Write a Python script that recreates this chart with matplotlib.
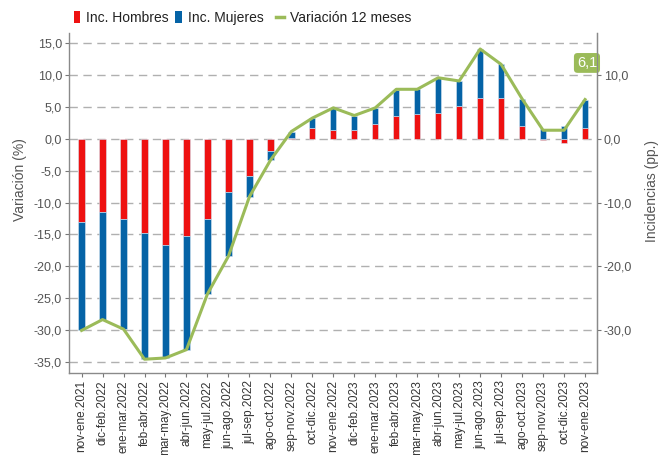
import matplotlib
matplotlib.use("Agg")
import matplotlib.pyplot as plt
from matplotlib.ticker import FuncFormatter, MultipleLocator, FixedLocator
from matplotlib.patches import Patch
from matplotlib.lines import Line2D
import numpy as np

plt.rcParams["font.family"] = ["Liberation Sans", "DejaVu Sans"]

# ---- datos ----
periodos = [
    "nov-ene.2021", "dic-feb.2022", "ene-mar.2022", "feb-abr.2022", "mar-may.2022",
    "abr-jun.2022", "may-jul.2022", "jun-ago.2022", "jul-sep.2022", "ago-oct.2022",
    "sep-nov.2022", "oct-dic.2022", "nov-ene.2022", "dic-feb.2023", "ene-mar.2023",
    "feb-abr.2023", "mar-may.2023", "abr-jun.2023", "may-jul.2023", "jun-ago.2023",
    "jul-sep.2023", "ago-oct.2023", "sep-nov.2023", "oct-dic.2023", "nov-ene.2023",
]
inc_hombres = [-13.1, -11.5, -12.6, -14.8, -16.6, -15.3, -12.5, -8.4, -5.8, -2.0,
               0.1, 1.7, 1.3, 1.35, 2.2, 3.5, 3.8, 4.0, 5.05, 6.3,
               6.3, 2.0, -0.15, -0.7, 1.7]
inc_mujeres = [-16.9, -16.8, -17.2, -19.7, -17.7, -17.7, -11.8, -10.0, -3.3, -1.4,
               1.0, 1.5, 3.5, 2.25, 2.6, 4.15, 3.9, 5.5, 3.95, 7.7,
               5.3, 4.2, 1.45, 1.95, 4.4]
variacion = [-30.0, -28.3, -29.8, -34.5, -34.3, -33.0, -24.3, -18.4, -9.1, -3.4,
             1.1, 3.2, 4.8, 3.6, 4.8, 7.7, 7.7, 9.5, 9.0, 14.0,
             11.6, 6.2, 1.3, 1.3, 6.1]

ROJO = "#ee1111"
AZUL = "#0563a6"
VERDE = "#9bbb59"
GRIS = "#555555"


def coma(v, pos=None):
    return f"{v:.1f}".replace(".", ",")


fig = plt.figure(figsize=(6.61, 4.55), dpi=100)
ax = fig.add_axes([69 / 661, 1 - 373.3 / 455, 528 / 661, 340.3 / 455])

x = np.arange(len(periodos))
h = np.array(inc_hombres)
m = np.array(inc_mujeres)

# apilado: las mujeres se apilan sobre los hombres con el mismo signo
base_m = np.where(np.sign(m) == np.sign(h), h, 0.0)

ax.bar(x, h, width=0.3, color=ROJO, edgecolor="#d8e6f2", linewidth=0.4, zorder=2)
ax.bar(x, m, width=0.3, bottom=base_m, color=AZUL, edgecolor="#d8e6f2", linewidth=0.4, zorder=2)
ax.plot(x, variacion, color=VERDE, linewidth=2.2, zorder=3)

ymin, ymax = -36.7, 16.5
ax.set_xlim(-0.6, len(periodos) - 0.43)
ax.set_ylim(ymin, ymax)
ax.yaxis.set_major_locator(MultipleLocator(5))
ax.yaxis.set_major_formatter(FuncFormatter(coma))
ax.grid(axis="y", color="#b0b0b0", linestyle=(0, (6, 4)), linewidth=1.0, zorder=0)

ax.set_xticks(x)
ax.set_xticklabels(periodos, rotation=90, fontsize=8.5, color="#333333")
ax.tick_params(axis="x", length=3, color="#777777", pad=2)
ax.tick_params(axis="y", length=3, color="#777777", labelsize=9, labelcolor=GRIS, pad=2)

ax.spines["top"].set_visible(False)
for s in ["left", "bottom", "right"]:
    ax.spines[s].set_color("#8a8a8a")
    ax.spines[s].set_linewidth(1.0)

ax.set_ylabel("Variación (%)", fontsize=10, color=GRIS)
ax.yaxis.set_label_coords(-0.080, 0.57)

# eje derecho (incidencias)
ax2 = ax.twinx()
ax2.set_ylim(ymin, ymax)
ax2.yaxis.set_major_locator(FixedLocator([-30, -20, -10, 0, 10]))
ax2.yaxis.set_major_formatter(FuncFormatter(coma))
ax2.tick_params(axis="y", length=3, color="#777777", labelsize=9, labelcolor=GRIS, pad=2)
for s in ["top", "left", "bottom"]:
    ax2.spines[s].set_visible(False)
ax2.spines["right"].set_color("#8a8a8a")
ax2.set_ylabel("Incidencias (pp.)", fontsize=10, color=GRIS)
ax2.yaxis.set_label_coords(1.091, 0.535)

# etiqueta del ultimo valor
ax.text(0.981, 0.912, coma(variacion[-1]), transform=ax.transAxes,
        ha="center", va="center", fontsize=10.5, color="white", zorder=5,
        bbox=dict(boxstyle="round,pad=0.2,rounding_size=0.25", fc=VERDE, ec="none"))

# leyenda (dos bloques para reproducir la separacion del original)
ley1 = fig.legend(
    handles=[Patch(facecolor=ROJO, edgecolor="none", label="Inc. Hombres"),
             Patch(facecolor=AZUL, edgecolor="none", label="Inc. Mujeres")],
    loc="center left", bbox_to_anchor=(74 / 661, 1 - 18 / 455), ncol=2,
    frameon=False, fontsize=10, handlelength=0.45, handleheight=1.0,
    handletextpad=0.45, columnspacing=0.45, borderpad=0, borderaxespad=0,
    labelcolor="#222222")
ley2 = fig.legend(
    handles=[Line2D([0], [0], color=VERDE, linewidth=2.5, label="Variación 12 meses")],
    loc="center left", bbox_to_anchor=(276 / 661, 1 - 18 / 455),
    frameon=False, fontsize=10, handlelength=0.55, handletextpad=0.45,
    borderpad=0, borderaxespad=0, labelcolor="#222222")

fig.savefig("out.png", dpi=100)
